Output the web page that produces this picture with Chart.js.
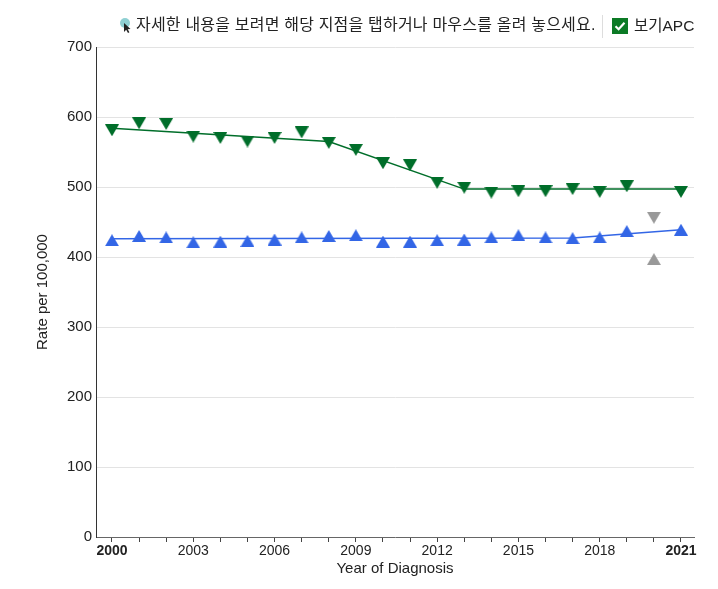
<!DOCTYPE html>
<html>
<head>
<meta charset="utf-8">
<script src="https://cdn.jsdelivr.net/npm/chart.js@4.4.1/dist/chart.umd.min.js"></script>
<style>
  html,body{margin:0;padding:0;background:#fff;}
  #wrap{position:relative;width:718px;height:589px;font-family:"Liberation Sans","Noto Sans CJK KR",Arial,sans-serif;}
  #c{position:absolute;left:0;top:0;}
  .hint{position:absolute;left:119px;top:15px;font-size:16px;letter-spacing:0.2px;color:#222;white-space:nowrap;font-family:"Liberation Sans","Noto Sans CJK KR",sans-serif;line-height:20px;}
  .hint svg{vertical-align:-3px;margin-right:3px;}
  .sep{position:absolute;left:602px;top:15px;width:1px;height:23px;background:#ddd;}
  .apc{position:absolute;left:612px;top:16px;font-size:15.5px;color:#222;white-space:nowrap;line-height:20px;}
  .apc svg{vertical-align:-3px;margin-right:6px;}
</style>
</head>
<body>
<div id="wrap">
  <canvas id="c" width="718" height="589"></canvas>
  <div class="hint"><svg width="14" height="16" viewBox="0 0 14 16"><circle cx="6" cy="6" r="5" fill="#8fd0d3"/><path d="M5 6 L5 15 L7.2 12.8 L9 16 L10.4 15.3 L8.7 12.2 L11.5 12 Z" fill="#222"/></svg>자세한 내용을 보려면 해당 지점을 탭하거나 마우스를 올려 놓으세요.</div>
  <div class="sep"></div>
  <div class="apc"><svg width="16" height="16" viewBox="0 0 16 16"><rect width="16" height="16" fill="#0b7a25"/><path d="M3.5 8.2 L6.6 11.2 L12.5 4.8" stroke="#fff" stroke-width="2.2" fill="none"/></svg>보기APC</div>
</div>
<script>
const years = [2000,2001,2002,2003,2004,2005,2006,2007,2008,2009,2010,2011,2012,2013,2014,2015,2016,2017,2018,2019,2020,2021];
// observed rates (2020 excluded from fit, shown grey)
const greenObs = [581,591,590,572,570,565,570,578,563,553,534,531,506,499,492,494,494,497,493,501,null,493];
const blueObs  = [424,430,428,421,422,423,425,428,430,431,422,422,424,425,428,431,428,427,428,437,null,439];
const excludedYear = [2020];
const greenExcluded = [456];
const blueExcluded = [397];
// joinpoint trend lines
const greenTrendYears = [2000,2008,2013,2021];
const greenTrend = [584,565,497,497];
const blueTrendYears = [2000,2017,2021];
const blueTrend = [426,427,439];
const yTicks = [0,100,200,300,400,500,600,700];

const C = { green:"#006e2a", blue:"#3366e6", grey:"#999999", grid:"#e3e3e3", text:"#222" };
Chart.defaults.font.family = "'Liberation Sans', Arial, sans-serif";
Chart.defaults.color = C.text;

// triangle marker centred on its bounding box
function tri(color, down){
  const w = 14, h = 12, cv = document.createElement("canvas");
  cv.width = w; cv.height = h;
  const g = cv.getContext("2d");
  g.fillStyle = color; g.beginPath();
  if (down){ g.moveTo(0,0); g.lineTo(w,0); g.lineTo(w/2,h); }
  else { g.moveTo(w/2,0); g.lineTo(w,h); g.lineTo(0,h); }
  g.closePath(); g.fill();
  return cv;
}

const pts = (xs, ys) => xs.map((x,i)=>({x, y: ys[i]})).filter(p=>p.y!==null);

new Chart(document.getElementById("c"), {
  type: "scatter",
  data: { datasets: [
    {data: pts(greenTrendYears, greenTrend), showLine:true, borderColor:C.green, borderWidth:1.5, pointRadius:0, fill:false},
    {data: pts(blueTrendYears, blueTrend), showLine:true, borderColor:C.blue, borderWidth:1.5, pointRadius:0, fill:false},
    {data: pts(years, greenObs), pointStyle:tri(C.green,true), pointRadius:7},
    {data: pts(years, blueObs), pointStyle:tri(C.blue,false), pointRadius:7},
    {data: pts(excludedYear, greenExcluded), pointStyle:tri(C.grey,true), pointRadius:7},
    {data: pts(excludedYear, blueExcluded), pointStyle:tri(C.grey,false), pointRadius:7}
  ]},
  options: {
    responsive:false, animation:false,
    layout:{padding:{top:47, right:24, left:34, bottom:11}},
    plugins:{legend:{display:false}, tooltip:{enabled:false}},
    scales:{
      x:{ type:"linear", min:1999.41, max:2021.48,
        afterBuildTicks: s => { s.ticks = years.map(v=>({value:v})); },
        afterFit: s => { s.height = 41; },
        border:{color:"#666", width:1},
        grid:{drawOnChartArea:false, drawTicks:true, tickLength:5, color:"#444"},
        ticks:{ autoSkip:false, maxRotation:0, padding:1, color:C.text,
          callback: v => ((v-2000)%3===0 ? String(v) : ""),
          font: ctx => ({size:14, weight: (ctx.tick && (ctx.tick.value===2000||ctx.tick.value===2021)) ? "bold" : "normal"}) },
        title:{display:true, text:"Year of Diagnosis", font:{size:15}, color:C.text, padding:{top:0,bottom:0}}
      },
      y:{ min:0, max:700,
        afterBuildTicks: s => { s.ticks = yTicks.map(v=>({value:v})); },
        afterFit: s => { s.width = 62; },
        border:{color:"#333", width:1},
        grid:{color: ctx => ctx.tick && ctx.tick.value===0 ? "rgba(0,0,0,0)" : C.grid, drawTicks:false},
        ticks:{ padding:4, font:{size:15}, color:C.text },
        title:{display:true, text:"Rate per 100,000", font:{size:15}, color:C.text, padding:{top:0,bottom:0}}
      }
    }
  }
});
</script>
</body>
</html>
